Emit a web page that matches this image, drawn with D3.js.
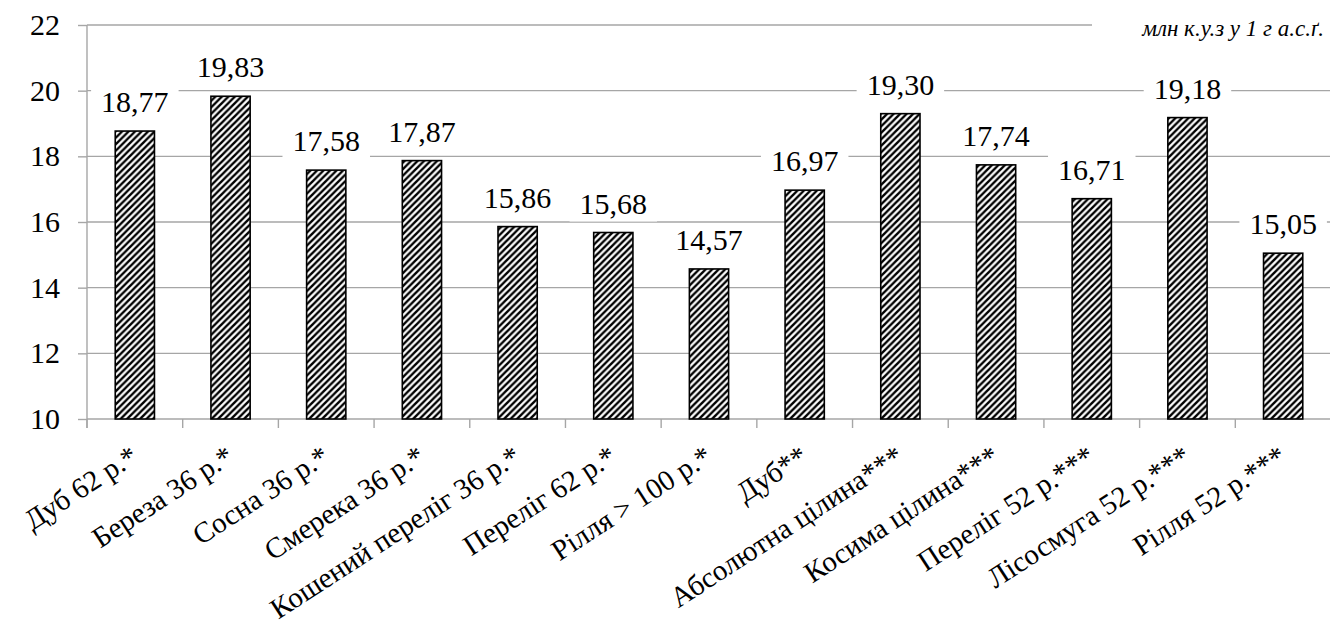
<!DOCTYPE html>
<html>
<head>
<meta charset="utf-8">
<script src="https://cdn.jsdelivr.net/npm/d3@7"></script>
<style>
  html, body { margin: 0; padding: 0; background: #fff; }
  svg { display: block; }
  #chart text { font-family: "Liberation Serif", serif !important; }
</style>
</head>
<body>
<svg id="chart" width="1330" height="621" font-family="Liberation Serif"></svg>
<script>
// Chart data
const categories = [
  "Дуб 62 р.*", "Береза 36 р.*", "Сосна 36 р.*", "Смерека 36 р.*",
  "Кошений переліг 36 р.*", "Переліг 62 р.*", "Рілля > 100 р.*", "Дуб**",
  "Абсолютна цілина***", "Косима цілина***", "Переліг 52 р.***",
  "Лісосмуга 52 р.***", "Рілля 52 р.***"
];
const values = [18.77, 19.83, 17.58, 17.87, 15.86, 15.68, 14.57, 16.97, 19.30, 17.74, 16.71, 19.18, 15.05];
const yTicks = [10, 12, 14, 16, 18, 20, 22];
const unitLabel = "млн  к.у.з у 1 г а.с.ґ.";

const setFont = (sel, size, italic) => sel
  .attr("font-family", "Liberation Serif")
  .style("font-family", '"Liberation Serif", serif', "important")
  .style("font-size", size + "px")
  .style("font-style", italic ? "italic" : "normal");

const svg = d3.select("#chart");
const plotLeft = 87, plotRight = 1331, plotTop = 25, plotBottom = 419;
const gridColor = "#a6a6a6";

const x = d3.scaleBand().domain(categories).range([plotLeft, plotRight]).padding(0);
const y = d3.scaleLinear().domain([10, 22]).range([plotBottom, plotTop]);
const barW = x.step() * 0.41;
const fmt = v => d3.format(".2f")(v).replace(".", ",");

// Diagonal hatch fill
const defs = svg.append("defs");
const pat = defs.append("pattern")
  .attr("id", "hatch")
  .attr("patternUnits", "userSpaceOnUse")
  .attr("width", 6.5).attr("height", 6.5);
pat.append("rect").attr("width", 6.5).attr("height", 6.5).attr("fill", "#fff");
pat.append("path")
  .attr("d", "M-1.625,1.625 L1.625,-1.625 M0,6.5 L6.5,0 M4.875,8.125 L8.125,4.875")
  .attr("stroke", "#000").attr("stroke-width", 2.4);

// Gridlines
svg.append("g").selectAll("line")
  .data(yTicks.filter(t => t > 10))
  .join("line")
  .attr("x1", plotLeft).attr("x2", plotRight)
  .attr("y1", d => y(d)).attr("y2", d => y(d))
  .attr("stroke", gridColor).attr("stroke-width", 1.4);

// Y axis
const yAxis = d3.axisLeft(y).tickValues(yTicks).tickSize(9).tickPadding(18).tickFormat(d => d);
const gy = svg.append("g").attr("transform", `translate(${plotLeft},0)`).call(yAxis);
gy.attr("font-family", "Liberation Serif").attr("font-size", 30);
gy.select(".domain").attr("stroke", gridColor).attr("stroke-width", 1.4).attr("d", `M0,${plotTop}V${plotBottom + 9}`);
gy.selectAll(".tick line").attr("stroke", gridColor).attr("stroke-width", 1.4);
setFont(gy.selectAll(".tick text"), 30).attr("fill", "#000");

// X axis line and boundary ticks
const gx = svg.append("g");
gx.append("line").attr("x1", plotLeft).attr("x2", plotRight).attr("y1", plotBottom).attr("y2", plotBottom)
  .attr("stroke", gridColor).attr("stroke-width", 1.4);
const bounds = categories.map(c => x(c)).concat([plotRight]);
gx.selectAll("line.tk").data(bounds).join("line").attr("class", "tk")
  .attr("x1", d => d).attr("x2", d => d).attr("y1", plotBottom).attr("y2", plotBottom + 9)
  .attr("stroke", gridColor).attr("stroke-width", 1.4);

// Unit label with white background
const unitG = svg.append("g");
unitG.append("rect").attr("x", 1092).attr("y", 8).attr("width", 240).attr("height", 36).attr("fill", "#fff");
setFont(unitG.append("text").attr("x", 1324).attr("y", 36).attr("text-anchor", "end"), 23, true)
  .text(unitLabel);

const data = categories.map((c, i) => ({ c, v: values[i] }));

// Value labels (white boxes hide gridlines)
const lab = svg.append("g").selectAll("g").data(data).join("g")
  .attr("transform", d => `translate(${x(d.c) + x.step() / 2},${y(d.v) - 19})`);
const labText = setFont(lab.append("text").attr("text-anchor", "middle"), 30).text(d => fmt(d.v));
labText.each(function () {
  const b = this.getBBox();
  d3.select(this.parentNode).insert("rect", "text")
    .attr("x", b.x - 10).attr("y", -25).attr("width", b.width + 20).attr("height", 33)
    .attr("fill", "#fff");
});

// Bars
svg.append("g").selectAll("rect").data(data).join("rect")
  .attr("x", d => x(d.c) + (x.step() - barW) / 2)
  .attr("y", d => y(d.v))
  .attr("width", barW)
  .attr("height", d => y(10) - y(d.v))
  .attr("fill", "url(#hatch)")
  .attr("stroke", "#000").attr("stroke-width", 1.6);

// Rotated category labels
setFont(svg.append("g").selectAll("text").data(categories).join("text")
  .attr("text-anchor", "end")
  .attr("transform", d => `translate(${x(d) + x.step() / 2 + 5},${plotBottom + 42}) rotate(-33)`), 29)
  .text(d => d);
</script>
</body>
</html>
